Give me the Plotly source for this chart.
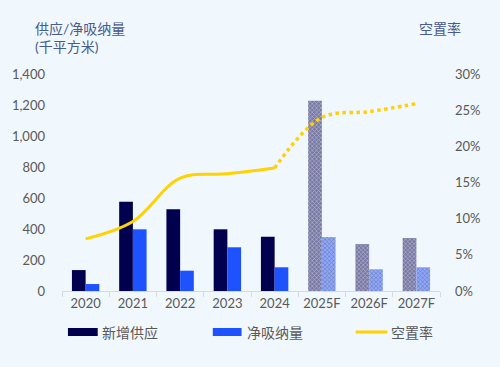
import plotly.graph_objects as go

categories = ["2020", "2021", "2022", "2023", "2024", "2025F", "2026F", "2027F"]
new_supply = [135, 576, 527, 398, 350, 1227, 303, 342]
net_absorption = [45, 398, 131, 282, 153, 348, 140, 153]
vacancy_actual = [0.072, 0.096, 0.156, 0.162, 0.170]
vacancy_forecast = [0.170, 0.240, 0.248, 0.259]
forecast_flags = [False, False, False, False, False, True, True, True]

NAVY = "#00004f"
BLUE = "#1f52ff"
YELLOW = "#ffd200"
BG = "#f0f7fd"
FONT = "Lato, Noto Sans CJK SC, sans-serif"

navy_fill = [NAVY if not f else "#7878a4" for f in forecast_flags]
blue_fill = [BLUE if not f else "#8fa8ff" for f in forecast_flags]
shapes_pat = ["" if not f else "x" for f in forecast_flags]

fig = go.Figure()
fig.add_trace(go.Bar(
    x=categories, y=new_supply, name="新增供应",
    marker=dict(color=navy_fill, line=dict(width=0),
                pattern=dict(shape=shapes_pat, fgcolor=NAVY, size=3, solidity=0.35, fillmode="overlay")),
    showlegend=False))
fig.add_trace(go.Bar(
    x=categories, y=net_absorption, name="净吸纳量",
    marker=dict(color=blue_fill, line=dict(width=0),
                pattern=dict(shape=shapes_pat, fgcolor=BLUE, size=3, solidity=0.35, fillmode="overlay")),
    showlegend=False))
fig.add_trace(go.Scatter(
    x=categories[:5], y=vacancy_actual, yaxis="y2", mode="lines", name="空置率",
    line=dict(color=YELLOW, width=3, shape="spline", smoothing=1.0), showlegend=False))
fig.add_trace(go.Scatter(
    x=categories[4:], y=vacancy_forecast, yaxis="y2", mode="lines", name="空置率",
    line=dict(color=YELLOW, width=3.5, dash="dot", shape="spline", smoothing=1.0), showlegend=False))

def py(y):
    return (291 - y) / 217
def px(x):
    return (x - 59) / 381

legend_y = 332
shapes = [
    dict(type="rect", xref="paper", yref="paper", x0=px(65), x1=px(95),
         y0=py(legend_y - 4), y1=py(legend_y + 4), fillcolor=NAVY, line=dict(width=0)),
    dict(type="rect", xref="paper", yref="paper", x0=px(211), x1=px(240),
         y0=py(legend_y - 4), y1=py(legend_y + 4), fillcolor=BLUE, line=dict(width=0)),
    dict(type="line", xref="paper", yref="paper", x0=px(355), x1=px(387),
         y0=py(legend_y), y1=py(legend_y), line=dict(color=YELLOW, width=3)),
]

annotations = [
    dict(text="新增供应", x=px(97), y=py(legend_y), xref="paper", yref="paper",
         xanchor="left", yanchor="middle", showarrow=False, font=dict(size=14, color="#595959", family=FONT)),
    dict(text="净吸纳量", x=px(243), y=py(legend_y), xref="paper", yref="paper",
         xanchor="left", yanchor="middle", showarrow=False, font=dict(size=14, color="#595959", family=FONT)),
    dict(text="空置率", x=px(389), y=py(legend_y), xref="paper", yref="paper",
         xanchor="left", yanchor="middle", showarrow=False, font=dict(size=14, color="#595959", family=FONT)),
    dict(text="供应/净吸纳量<br>(千平方米)", x=px(30), y=py(18), xref="paper", yref="paper",
         xanchor="left", yanchor="top", align="left", showarrow=False,
         font=dict(size=14, color="#4a5a8c", family=FONT)),
    dict(text="空置率", x=px(417), y=py(18), xref="paper", yref="paper",
         xanchor="left", yanchor="top", align="left", showarrow=False,
         font=dict(size=14, color="#4a5a8c", family=FONT)),
]

fig.update_layout(
    width=500, height=367,
    margin=dict(l=59, r=60, t=74, b=76),
    paper_bgcolor=BG, plot_bgcolor=BG,
    barmode="group", bargap=0.42, bargroupgap=0,
    font=dict(family=FONT, size=13, color="#595959"),
    showlegend=False,
    shapes=shapes, annotations=annotations,
    xaxis=dict(type="category", showgrid=False, showline=True, linecolor="#d9d9d9", linewidth=1,
               ticks="outside", tickson="boundaries", ticklen=5, tickcolor="#d9d9d9",
               tickfont=dict(size=13, color="#595959")),
    yaxis=dict(range=[0, 1400], dtick=200, tickformat=",", showgrid=False, zeroline=False,
               showline=False, ticklabelstandoff=16, tickfont=dict(size=13, color="#595959")),
    yaxis2=dict(range=[0, 0.30], dtick=0.05, tickformat=".0%", overlaying="y", side="right",
                showgrid=False, zeroline=False, showline=False, ticklabelstandoff=14,
                tickfont=dict(size=13, color="#595959")),
)

fig.write_html("out.html", config={"displayModeBar": False},
               post_script="document.body.style.margin='0';document.body.style.background='#f0f7fd';")
